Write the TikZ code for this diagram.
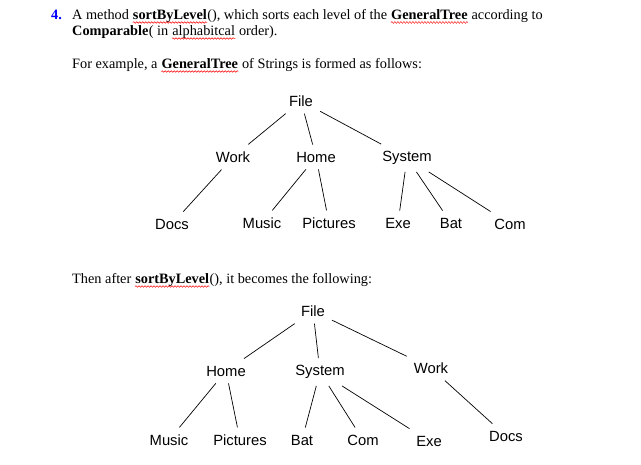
\documentclass[tikz,border=0pt]{standalone}
\usepackage{fontspec}
\setmainfont{Liberation Serif}
\newfontfamily\arial{Liberation Sans}
\usetikzlibrary{decorations.pathmorphing}
\begin{document}
\begin{tikzpicture}[x=1pt,y=-1pt,
  tx/.style={inner sep=0pt,anchor=base west,font=\fontsize{14.3}{16}\selectfont},
  nx/.style={tx,xshift=3.6pt},
  bx/.style={font=\bfseries\fontsize{14.3}{16}\selectfont},
  lab/.style={font=\arial\fontsize{14.8}{17}\selectfont,inner sep=7pt},
  sq/.style={red,line width=0.5pt,decorate,decoration={snake,amplitude=0.8pt,segment length=3pt}},
  ed/.style={line width=0.7pt}]
\useasboundingbox (0,0) rectangle (641,465);
% heading text
\node[tx,text=blue,font=\bfseries\fontsize{14.3}{16}\selectfont] (n4) at (51,20) {4.};
\node[tx] (a1) at (72,20) {A method};
\node[nx,bx] (a2) at (a1.base east) {sortByLevel};
\node[tx] (a3) at (a2.base east) {(), which sorts each level of the};
\node[nx,bx] (a4) at (a3.base east) {GeneralTree};
\node[nx] (a5) at (a4.base east) {according to};
\node[tx,bx] (b1) at (72,36) {Comparable};
\node[tx] (b2) at (b1.base east) {( in};
\node[nx] (b3) at (b2.base east) {alphabitcal};
\node[nx] (b4) at (b3.base east) {order).};
\node[tx] (c1) at (72,69) {For example, a};
\node[nx,bx] (c2) at (c1.base east) {GeneralTree};
\node[nx] (c3) at (c2.base east) {of Strings is formed as follows:};
\node[tx] (d1) at (72,284) {Then after};
\node[nx,bx] (d2) at (d1.base east) {sortByLevel};
\node[tx] (d3) at (d2.base east) {(), it becomes the following:};
\foreach \n in {a2,a4,b3,c2,d2}
  \draw[sq] ([yshift=-2.5pt]\n.base west) -- ([yshift=-2.5pt]\n.base east);
% tree 1
\node[lab] (f1) at (301,101) {File};
\node[lab] (w1) at (233,157) {Work};
\node[lab] (h1) at (316,157) {Home};
\node[lab] (s1) at (407,158) {System};
\node[lab] (d1n) at (172,224) {Docs};
\node[lab] (m1) at (262,223) {Music};
\node[lab] (p1) at (329,223) {Pictures};
\node[lab] (e1) at (398,223) {Exe};
\node[lab] (bt1) at (451,223) {Bat};
\node[lab] (c1n) at (510,224) {Com};
\draw[ed] (f1) -- (w1); \draw[ed] (f1) -- (h1); \draw[ed] (f1) -- (s1);
\draw[ed] (w1) -- (d1n); \draw[ed] (h1) -- (m1); \draw[ed] (h1) -- (p1);
\draw[ed] (s1) -- (e1); \draw[ed] (s1) -- (bt1); \draw[ed] (s1) -- (c1n);
% tree 2
\node[lab] (f2) at (313,311) {File};
\node[lab] (h2) at (226,371) {Home};
\node[lab] (s2) at (320,372) {System};
\node[lab] (w2) at (431,368) {Work};
\node[lab] (m2) at (169,440) {Music};
\node[lab] (p2) at (240,440) {Pictures};
\node[lab] (bt2) at (302,440) {Bat};
\node[lab] (c2n) at (363,440) {Com};
\node[lab] (e2) at (429,441) {Exe};
\node[lab] (dc2) at (506,436) {Docs};
\draw[ed] (f2) -- (h2); \draw[ed] (f2) -- (s2); \draw[ed] (f2) -- (w2);
\draw[ed] (h2) -- (m2); \draw[ed] (h2) -- (p2);
\draw[ed] (s2) -- (bt2); \draw[ed] (s2) -- (c2n); \draw[ed] (s2) -- (e2);
\draw[ed] (w2) -- (dc2);
\end{tikzpicture}
\end{document}
